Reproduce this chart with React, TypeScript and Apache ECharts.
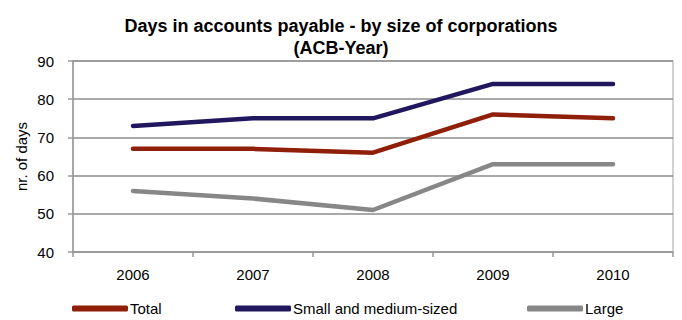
import React, { useEffect, useRef } from "react";
import * as echarts from "echarts";

const categories = ["2006", "2007", "2008", "2009", "2010"];
const totalValues = [67, 67, 66, 76, 75];
const smeValues = [73, 75, 75, 84, 84];
const largeValues = [56, 54, 51, 63, 63];
const seriesNames = ["Total", "Small and medium-sized", "Large"];
const seriesColors = ["#8f1f08", "#21175f", "#878787"];

const FONT = "'Liberation Sans Narrow', 'Arial Narrow', 'Liberation Sans', Arial, sans-serif";

export default function App() {
  const ref = useRef<HTMLDivElement>(null);
  useEffect(() => {
    if (!ref.current) return;
    const chart = echarts.init(ref.current, null, { renderer: "svg" });
    const values = [totalValues, smeValues, largeValues];
    const legendLefts = [72, 235, 527];
    chart.setOption({
      animation: false,
      backgroundColor: "#ffffff",
      title: {
        text: "Days in accounts payable - by size of corporations\n(ACB-Year)",
        left: "center",
        top: 10,
        textStyle: {
          fontFamily: FONT,
          fontSize: 18,
          fontWeight: "bold",
          color: "#000",
          lineHeight: 22,
        },
      },
      legend: seriesNames.map((n, i) => ({
        data: [n],
        left: legendLefts[i],
        top: 301,
        itemWidth: 56,
        itemHeight: 6,
        itemGap: 2,
        icon: "roundRect",
        padding: 0,
        textStyle: { fontFamily: FONT, fontSize: 15, color: "#000", padding: [0, 0, 0, -3] },
      })),
      grid: {
        left: 73,
        right: 9,
        top: 61,
        bottom: 68,
        show: true,
        borderColor: "#c4c4c4",
        borderWidth: 1.5,
      },
      xAxis: {
        type: "category",
        data: categories,
        boundaryGap: true,
        axisLine: { lineStyle: { color: "#999", width: 1.5 } },
        axisTick: { show: true, length: 5, alignWithLabel: false, lineStyle: { color: "#999", width: 1.5 } },
        axisLabel: { fontFamily: FONT, fontSize: 15, color: "#000", margin: 15 },
      },
      yAxis: {
        type: "value",
        min: 40,
        max: 90,
        interval: 10,
        name: "nr. of days",
        nameLocation: "middle",
        nameGap: 44,
        nameMoveOverlap: false,
        nameTextStyle: { fontFamily: FONT, fontSize: 15, color: "#000" },
        axisLine: { show: true, lineStyle: { color: "#999", width: 1.5 } },
        axisTick: { show: true, length: 5, lineStyle: { color: "#999", width: 1.5 } },
        axisLabel: { fontFamily: FONT, fontSize: 15, color: "#000", margin: 19 },
        splitLine: { lineStyle: { color: "#8c8c8c", width: 1.5 } },
      },
      series: seriesNames.map((n, i) => ({
        name: n,
        type: "line",
        data: values[i],
        smooth: false,
        symbol: "none",
        color: seriesColors[i],
        lineStyle: { width: 4.5, color: seriesColors[i], cap: "round", join: "round" },
      })),
    });
    return () => chart.dispose();
  }, []);
  return (
    <div
      ref={ref}
      style={{ position: "absolute", left: 0, top: 0, width: 682, height: 320 }}
    />
  );
}
